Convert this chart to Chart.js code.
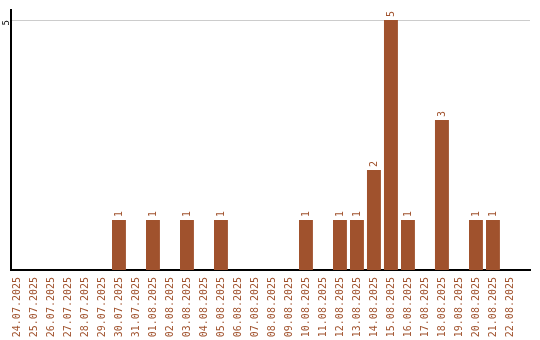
<!DOCTYPE html>
<html>
<head>
<meta charset="utf-8">
<script src="https://cdn.jsdelivr.net/npm/chart.js@4/dist/chart.umd.min.js"></script>
<style>
  html, body { margin: 0; padding: 0; background: #fff; }
  #wrap { width: 540px; height: 340px; }
</style>
</head>
<body>
<div id="wrap"><canvas id="chart" width="540" height="340"></canvas></div>
<script>
var days = ["24.07.2025", "25.07.2025", "26.07.2025", "27.07.2025", "28.07.2025", "29.07.2025",
   "30.07.2025", "31.07.2025", "01.08.2025", "02.08.2025", "03.08.2025", "04.08.2025",
   "05.08.2025", "06.08.2025", "07.08.2025", "08.08.2025", "09.08.2025", "10.08.2025",
   "11.08.2025", "12.08.2025", "13.08.2025", "14.08.2025", "15.08.2025", "16.08.2025",
   "17.08.2025", "18.08.2025", "19.08.2025", "20.08.2025", "21.08.2025", "22.08.2025"];
var counts = [0, 0, 0, 0, 0, 0, 1, 0, 1, 0, 1, 0, 1, 0, 0, 0, 0, 1, 0, 1, 1, 2, 5, 1, 0, 3, 0, 1, 1, 0];
var yTicks = [5];

var brown = "#a0522d";
var monoFont = { family: "'DejaVu Sans Mono', monospace", size: 10 };

// writes the value above each bar, rotated like the axis labels
var barValues = {
   id: "barValues",
   afterDatasetsDraw: function (chart) {
      var ctx = chart.ctx;
      var meta = chart.getDatasetMeta(0);
      ctx.save();
      ctx.fillStyle = brown;
      ctx.font = "10px 'DejaVu Sans Mono', monospace";
      ctx.textAlign = "left";
      ctx.textBaseline = "middle";
      meta.data.forEach(function (bar, i) {
         if (!counts[i]) return;
         ctx.save();
         ctx.translate(bar.x, bar.y - 3);
         ctx.rotate(-Math.PI / 2);
         ctx.fillText(String(counts[i]), 0, 0);
         ctx.restore();
      });
      ctx.restore();
   }
};

new Chart(document.getElementById("chart"), {
   type: "bar",
   data: {
      datasets: [{
         data: counts.map(function (c, i) { return { x: i, y: c }; }),
         backgroundColor: brown,
         borderWidth: 0,
         barPercentage: 0.82,
         categoryPercentage: 1
      }]
   },
   options: {
      responsive: false,
      animation: false,
      layout: { padding: { top: 10, right: 10, left: 0, bottom: 0 } },
      plugins: { legend: { display: false }, tooltip: { enabled: false } },
      scales: {
         x: {
            type: "linear",
            offset: false,
            min: -0.35,
            max: 30.18,
            afterBuildTicks: function (s) {
               s.ticks = days.map(function (d, i) { return { value: i }; });
            },
            grid: { display: false, drawTicks: false, offset: false },
            border: { color: "#000", width: 2 },
            ticks: {
               color: brown, font: monoFont, padding: 7,
               minRotation: 90, maxRotation: 90, autoSkip: false,
               callback: function (v) { return days[v]; }
            },
            afterFit: function (s) {
               s.height = 70;
               s.paddingLeft = 0;
               s.paddingRight = 0;
            }
         },
         y: {
            min: 0,
            max: 5.2,
            afterBuildTicks: function (s) {
               s.ticks = yTicks.map(function (v) { return { value: v }; });
            },
            grid: { color: "#cccccc", drawTicks: false },
            border: { color: "#000", width: 2 },
            ticks: {
               color: "#000", font: { family: "'DejaVu Sans Mono', monospace", size: 9 },
               padding: 4, minRotation: 90, maxRotation: 90
            },
            afterFit: function (s) {
               s.width = 11;
               s.paddingTop = 0;
               s.paddingBottom = 0;
            }
         }
      }
   },
   plugins: [barValues]
});
</script>
</body>
</html>
